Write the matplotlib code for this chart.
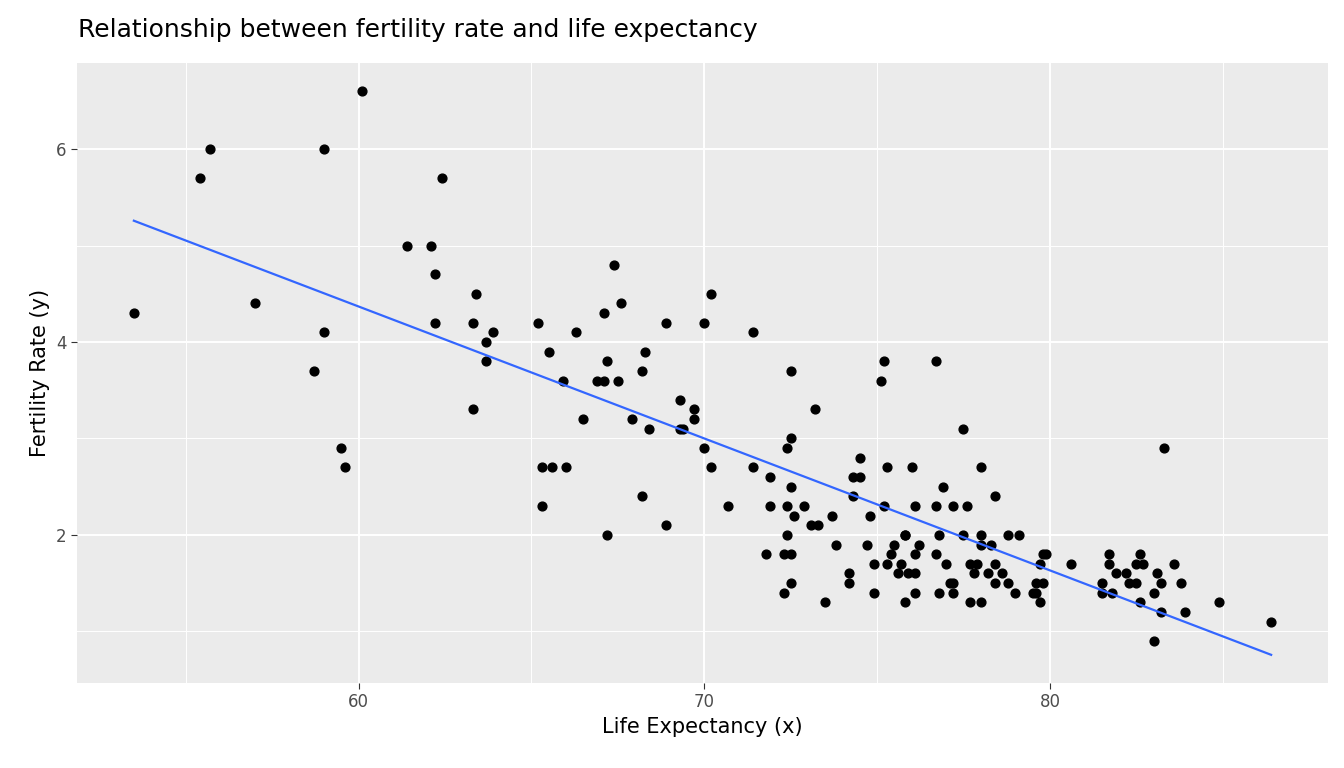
import numpy as np
import matplotlib
matplotlib.use('Agg')
import matplotlib.pyplot as plt

life = [53.5, 55.4, 55.7, 57.0, 58.7, 59.0, 59.0, 59.5, 59.6, 60.1, 61.4, 62.1, 62.2, 62.2, 62.4,
        63.3, 63.3, 63.4, 63.7, 63.7, 63.9, 65.2, 65.3, 65.3, 65.5, 65.6, 65.9, 66.0, 66.3, 66.5,
        66.9, 67.1, 67.1, 67.2, 67.2, 67.4, 67.5, 67.6, 67.9, 68.2, 68.2, 68.3, 68.4, 68.9, 68.9,
        69.3, 69.3, 69.4, 69.7, 69.7, 70.0, 70.2, 71.4,
        70.0, 70.2, 70.7, 71.4, 71.8, 71.9, 71.9, 72.5, 72.4, 72.5, 72.5, 72.4, 72.6, 72.4, 72.3,
        72.5, 72.5, 72.3, 72.9, 73.2, 73.1, 73.3, 73.5, 73.7, 73.8, 74.2, 74.2, 74.3, 74.5, 74.5,
        74.3, 74.7, 74.8, 74.9, 74.9, 75.2, 75.1, 75.3, 75.2, 75.3, 75.4, 75.5, 75.8, 75.8, 75.7,
        75.6, 75.9, 76.1, 75.8, 76.1, 76.0, 76.1, 76.2, 76.1, 76.7, 76.7, 76.9, 76.8, 76.7, 77.0,
        77.1, 77.2, 76.8, 77.2, 77.2, 77.5, 77.6, 77.5, 78.0, 78.4, 78.0, 78.0, 78.3, 77.7, 77.9,
        77.8, 78.4, 78.2, 78.6, 78.4, 78.8, 79.0, 77.7, 78.0, 78.8, 79.1, 79.8, 79.9, 79.7, 79.6,
        79.8, 79.5, 79.6, 79.7, 80.6, 81.7, 81.7, 81.5, 81.5, 81.8, 81.9, 82.2, 82.3, 82.6, 82.5,
        82.7, 82.5, 82.6, 83.1, 83.2, 83.0, 83.2, 83.0, 83.3, 83.6, 83.8, 83.9, 84.9, 86.4]
fert = [4.3, 5.7, 6.0, 4.4, 3.7, 6.0, 4.1, 2.9, 2.7, 6.6, 5.0, 5.0, 4.7, 4.2, 5.7,
        4.2, 3.3, 4.5, 4.0, 3.8, 4.1, 4.2, 2.7, 2.3, 3.9, 2.7, 3.6, 2.7, 4.1, 3.2,
        3.6, 3.6, 4.3, 3.8, 2.0, 4.8, 3.6, 4.4, 3.2, 3.7, 2.4, 3.9, 3.1, 4.2, 2.1,
        3.4, 3.1, 3.1, 3.3, 3.2, 4.2, 4.5, 4.1,
        2.9, 2.7, 2.3, 2.7, 1.8, 2.6, 2.3, 3.7, 2.9, 3.0, 2.5, 2.3, 2.2, 2.0, 1.8,
        1.8, 1.5, 1.4, 2.3, 3.3, 2.1, 2.1, 1.3, 2.2, 1.9, 1.6, 1.5, 2.6, 2.6, 2.8,
        2.4, 1.9, 2.2, 1.7, 1.4, 3.8, 3.6, 2.7, 2.3, 1.7, 1.8, 1.9, 2.0, 2.0, 1.7,
        1.6, 1.6, 1.6, 1.3, 1.4, 2.7, 2.3, 1.9, 1.8, 3.8, 2.3, 2.5, 2.0, 1.8, 1.7,
        1.5, 1.5, 1.4, 1.4, 2.3, 3.1, 2.3, 2.0, 2.7, 2.4, 2.0, 1.9, 1.9, 1.7, 1.7,
        1.6, 1.7, 1.6, 1.6, 1.5, 1.5, 1.4, 1.3, 1.3, 2.0, 2.0, 1.8, 1.8, 1.7, 1.5,
        1.5, 1.4, 1.4, 1.3, 1.7, 1.8, 1.7, 1.5, 1.4, 1.4, 1.6, 1.6, 1.5, 1.8, 1.7,
        1.7, 1.5, 1.3, 1.6, 1.5, 1.4, 1.2, 0.9, 2.9, 1.7, 1.5, 1.2, 1.3, 1.1]

x = np.array(life)
y = np.array(fert)

fig = plt.figure(figsize=(13.44, 7.68), dpi=100)
ax = fig.add_axes([77/1344, 1-683/768, (1328-77)/1344, (683-63)/768])
ax.set_facecolor('#EBEBEB')
for s in ax.spines.values():
    s.set_visible(False)

ax.set_xticks([60, 70, 80])
ax.set_yticks([2, 4, 6])
ax.set_xticks([55, 65, 75, 85], minor=True)
ax.set_yticks([1, 3, 5], minor=True)
ax.grid(which='major', color='white', lw=1.4)
ax.grid(which='minor', color='white', lw=0.7)
ax.set_axisbelow(True)
ax.tick_params(which='major', color='#333333', length=4, labelsize=12, labelcolor='#4D4D4D')
ax.tick_params(which='minor', length=0)

ax.scatter(x, y, s=40, color='black', zorder=3)
b, a = np.polyfit(x, y, 1)
xs = np.array([x.min(), x.max()])
ys = a + b * xs
ax.plot(xs, ys, color='#3366FF', lw=1.6, zorder=4)

xr = x.max() - x.min()
ylo = min(y.min(), ys.min())
yhi = max(y.max(), ys.max())
yr = yhi - ylo
ax.set_xlim(x.min() - 0.05 * xr, x.max() + 0.05 * xr)
ax.set_ylim(ylo - 0.05 * yr, yhi + 0.05 * yr)

ax.set_xlabel('Life Expectancy (x)', fontsize=15)
ax.set_ylabel('Fertility Rate (y)', fontsize=15)
fig.text(78/1344, 1-30/768, 'Relationship between fertility rate and life expectancy',
         fontsize=18, va='center', ha='left')

fig.savefig('out.png', dpi=100)
